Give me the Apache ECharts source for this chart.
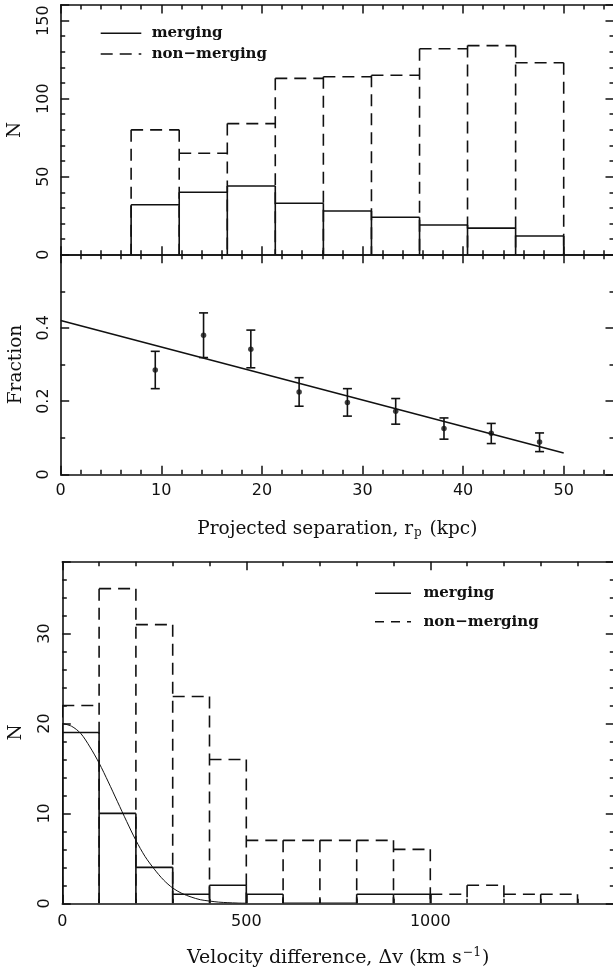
<!DOCTYPE html>
<html><head><meta charset="utf-8">
<script src="https://cdn.jsdelivr.net/npm/echarts@6/dist/echarts.min.js"></script>
<style>html,body{margin:0;padding:0;background:#fff}#c{width:613px;height:970px}</style>
</head><body><div id="c"></div>
<script>
// ---------- data ----------
const sepBinEdges = [7, 11.78, 16.56, 21.33, 26.11, 30.89, 35.67, 40.44, 45.22, 50];
const sepMerging = [32, 40, 44, 33, 28, 24, 19, 17, 12];
const sepNonMerging = [80, 65, 84, 113, 114, 115, 132, 134, 123];

const fracX = [9.4, 14.2, 18.9, 23.7, 28.5, 33.3, 38.1, 42.8, 47.6];
const fracY = [0.285, 0.380, 0.342, 0.225, 0.196, 0.172, 0.125, 0.112, 0.088];
const fracErrLo = [0.234, 0.319, 0.291, 0.186, 0.159, 0.137, 0.096, 0.084, 0.062];
const fracErrHi = [0.336, 0.441, 0.394, 0.264, 0.234, 0.207, 0.154, 0.139, 0.113];
const fitX = [0, 50];
const fitY = [0.42, 0.058];

const velBinEdges = [0, 100, 200, 300, 400, 500, 600, 700, 800, 900, 1000, 1100, 1200, 1300, 1400];
const velMerging = [19, 10, 4, 1, 2, 1, 0, 0, 1, 1];
const velNonMerging = [22, 35, 31, 23, 16, 7, 7, 7, 7, 6, 1, 2, 1, 1];

const gaussX = [0, 25, 50, 75, 100, 125, 150, 175, 200, 225, 250, 275, 300, 325, 350, 375, 400, 425, 450, 475, 500];
const gaussY = [20.0, 19.7, 18.9, 17.4, 15.6, 13.5, 11.3, 9.1, 7.0, 5.2, 3.8, 2.6, 1.7, 1.1, 0.7, 0.4, 0.25, 0.13, 0.07, 0.03, 0.01];

const legendLabels = ['merging', 'non\u2212merging'];

// ---------- helpers ----------
const INK = '#111';
const FONT = 'DejaVu Serif';
const TICKFONT = 'DejaVu Sans';

function histData(edges, counts) {
  return counts.map((h, i) => {
    const prev = i > 0 ? counts[i - 1] : 0;
    return [edges[i], edges[i + 1], h, Math.max(prev, h), i === counts.length - 1 ? 1 : 0];
  });
}
function histRender(dash) {
  return function (params, api) {
    const lo = api.value(0), hi = api.value(1), h = api.value(2), vmax = api.value(3), last = api.value(4);
    const pTop = api.coord([lo, vmax]), p0 = api.coord([lo, 0]);
    const pL = api.coord([lo, h]), pR = api.coord([hi, h]), pR0 = api.coord([hi, 0]);
    const style = { stroke: INK, lineWidth: 1.6, fill: null, lineDash: dash };
    const children = [
      { type: 'line', shape: { x1: pTop[0], y1: pTop[1], x2: p0[0], y2: p0[1] }, style },
      { type: 'line', shape: { x1: pL[0], y1: pL[1], x2: pR[0], y2: pR[1] }, style }
    ];
    if (last) children.push({ type: 'line', shape: { x1: pR[0], y1: pR[1], x2: pR0[0], y2: pR0[1] }, style });
    return { type: 'group', children };
  };
}
function errRender(params, api) {
  const x = api.value(0), lo = api.value(1), hi = api.value(2);
  const a = api.coord([x, hi]), b = api.coord([x, lo]);
  const w = 4.5;
  const style = { stroke: INK, lineWidth: 1.6 };
  return { type: 'group', children: [
    { type: 'line', shape: { x1: a[0], y1: a[1], x2: b[0], y2: b[1] }, style },
    { type: 'line', shape: { x1: a[0] - w, y1: a[1], x2: a[0] + w, y2: a[1] }, style },
    { type: 'line', shape: { x1: b[0] - w, y1: b[1], x2: b[0] + w, y2: b[1] }, style }
  ]};
}

const lbl = { fontFamily: TICKFONT, fontSize: 16, color: INK, formatter: v => String(v) };
function xAxisCfg(grid, min, max, interval, minorSplit, opts) {
  opts = opts || {};
  return Object.assign({
    type: 'value', gridIndex: grid, min, max, interval,
    position: opts.top ? 'top' : 'bottom',
    axisLine: { show: true, onZero: false, lineStyle: { color: INK, width: 1.6 } },
    axisTick: { show: true, inside: true, length: 8.5, lineStyle: { color: INK, width: 1.5 } },
    minorTick: { show: true, splitNumber: minorSplit, length: 4.5, lineStyle: { color: INK, width: 1.5 } },
    splitLine: { show: false }, minorSplitLine: { show: false },
    axisLabel: Object.assign({ show: !!opts.labels, margin: opts.margin || 8, showMaxLabel: false }, lbl)
  }, opts.extra || {});
}
function yAxisCfg(grid, min, max, interval, minorSplit, opts) {
  opts = opts || {};
  return Object.assign({
    type: 'value', gridIndex: grid, min, max, interval,
    position: opts.right ? 'right' : 'left',
    axisLine: { show: true, onZero: false, lineStyle: { color: INK, width: 1.6 } },
    axisTick: { show: true, inside: true, length: 8.5, lineStyle: { color: INK, width: 1.5 } },
    minorTick: { show: true, splitNumber: minorSplit, length: 4.5, lineStyle: { color: INK, width: 1.5 } },
    splitLine: { show: false }, minorSplitLine: { show: false },
    axisLabel: Object.assign({ show: !!opts.labels, rotate: 90, margin: 9, showMaxLabel: false }, lbl)
  }, opts.extra || {});
}
const nameStyle = { fontFamily: FONT, fontSize: 18.5, color: INK };

const chart = echarts.init(document.getElementById('c'), null, { renderer: 'canvas' });

const option = {
  animation: false,
  backgroundColor: '#fff',
  grid: [
    { left: 60.7, width: 553.3, top: 5, height: 249.7, containLabel: false, outerBoundsMode: 'none' },
    { left: 60.7, width: 553.3, top: 254.7, height: 219.6, containLabel: false, outerBoundsMode: 'none' },
    { left: 62.3, width: 552, top: 561.7, height: 341.6, containLabel: false, outerBoundsMode: 'none' }
  ],
  xAxis: [
    xAxisCfg(0, 0, 55, 10, 5),
    xAxisCfg(0, 0, 55, 10, 5, { top: true }),
    xAxisCfg(1, 0, 55, 10, 5, { labels: true, margin: 9, extra: {
      name: '{a|Projected separation, r}{s|p}{a| (kpc)}', nameLocation: 'middle', nameGap: 44,
      nameTextStyle: { rich: {
        a: nameStyle,
        s: { fontFamily: FONT, fontSize: 12, color: INK, padding: [9, 2, 0, 1] }
      } } } }),
    xAxisCfg(1, 0, 55, 10, 5, { top: true }),
    xAxisCfg(2, 0, 1500, 500, 5, { labels: true, margin: 11, extra: {
      name: '{a|Velocity difference, \u0394v (km s}{s|\u22121}{a|)}', nameLocation: 'middle', nameGap: 43,
      nameTextStyle: { rich: {
        a: { fontFamily: FONT, fontSize: 19, color: INK },
        s: { fontFamily: FONT, fontSize: 12.5, color: INK, padding: [0, 1, 10, 1] }
      } } } }),
    xAxisCfg(2, 0, 1500, 500, 5, { top: true })
  ],
  yAxis: [
    yAxisCfg(0, 0, 160, 50, 5, { labels: true, extra: {
      name: 'N', nameLocation: 'middle', nameGap: 36, nameRotate: 90, nameTextStyle: nameStyle } }),
    yAxisCfg(0, 0, 160, 50, 5, { right: true }),
    yAxisCfg(1, 0, 0.6, 0.2, 2, { labels: true, extra: {
      name: 'Fraction', nameLocation: 'middle', nameGap: 35, nameRotate: 90, nameTextStyle: nameStyle } }),
    yAxisCfg(1, 0, 0.6, 0.2, 2, { right: true }),
    yAxisCfg(2, 0, 38, 10, 5, { labels: true, extra: {
      name: 'N', nameLocation: 'middle', nameGap: 37, nameRotate: 90, nameTextStyle: nameStyle } }),
    yAxisCfg(2, 0, 38, 10, 5, { right: true })
  ],
  series: [
    { type: 'custom', name: 'non-merging', xAxisIndex: 0, yAxisIndex: 0, renderItem: histRender([12, 7]),
      data: histData(sepBinEdges, sepNonMerging), clip: true, silent: true },
    { type: 'custom', name: 'merging', xAxisIndex: 0, yAxisIndex: 0, renderItem: histRender(null),
      data: histData(sepBinEdges, sepMerging), clip: true, silent: true },
    { type: 'line', xAxisIndex: 2, yAxisIndex: 2, data: fitX.map((x, i) => [x, fitY[i]]),
      showSymbol: false, lineStyle: { color: INK, width: 1.6 }, silent: true },
    { type: 'custom', xAxisIndex: 2, yAxisIndex: 2, renderItem: errRender,
      data: fracX.map((x, i) => [x, fracErrLo[i], fracErrHi[i]]), silent: true },
    { type: 'scatter', xAxisIndex: 2, yAxisIndex: 2, data: fracX.map((x, i) => [x, fracY[i]]),
      symbol: 'circle', symbolSize: 5.5, itemStyle: { color: INK }, silent: true },
    { type: 'custom', name: 'non-merging', xAxisIndex: 4, yAxisIndex: 4, renderItem: histRender([12, 7]),
      data: histData(velBinEdges, velNonMerging), clip: true, silent: true },
    { type: 'custom', name: 'merging', xAxisIndex: 4, yAxisIndex: 4, renderItem: histRender(null),
      data: histData(velBinEdges, velMerging), clip: true, silent: true },
    { type: 'line', xAxisIndex: 4, yAxisIndex: 4, data: gaussX.map((x, i) => [x, gaussY[i]]),
      smooth: 0.3, showSymbol: false, lineStyle: { color: INK, width: 1 }, silent: true }
  ],
  graphic: [
    { type: 'line', shape: { x1: 100.7, y1: 33.3, x2: 141.3, y2: 33.3 }, style: { stroke: INK, lineWidth: 1.6 } },
    { type: 'line', shape: { x1: 100.7, y1: 54, x2: 141.3, y2: 54 }, style: { stroke: INK, lineWidth: 1.6, lineDash: [12, 7] } },
    { type: 'text', x: 151.7, y: 33.3, style: { text: legendLabels[0], font: 'bold 15px "DejaVu Serif"', fill: INK, verticalAlign: 'middle' } },
    { type: 'text', x: 151.7, y: 54, style: { text: legendLabels[1], font: 'bold 15px "DejaVu Serif"', fill: INK, verticalAlign: 'middle' } },
    { type: 'line', shape: { x1: 375, y1: 593.3, x2: 411, y2: 593.3 }, style: { stroke: INK, lineWidth: 1.6 } },
    { type: 'line', shape: { x1: 375, y1: 621.7, x2: 411, y2: 621.7 }, style: { stroke: INK, lineWidth: 1.6, lineDash: [9, 7] } },
    { type: 'text', x: 423.4, y: 593.3, style: { text: legendLabels[0], font: 'bold 15px "DejaVu Serif"', fill: INK, verticalAlign: 'middle' } },
    { type: 'text', x: 423.4, y: 621.7, style: { text: legendLabels[1], font: 'bold 15px "DejaVu Serif"', fill: INK, verticalAlign: 'middle' } }
  ]
};
chart.setOption(option);
</script>
</body></html>
